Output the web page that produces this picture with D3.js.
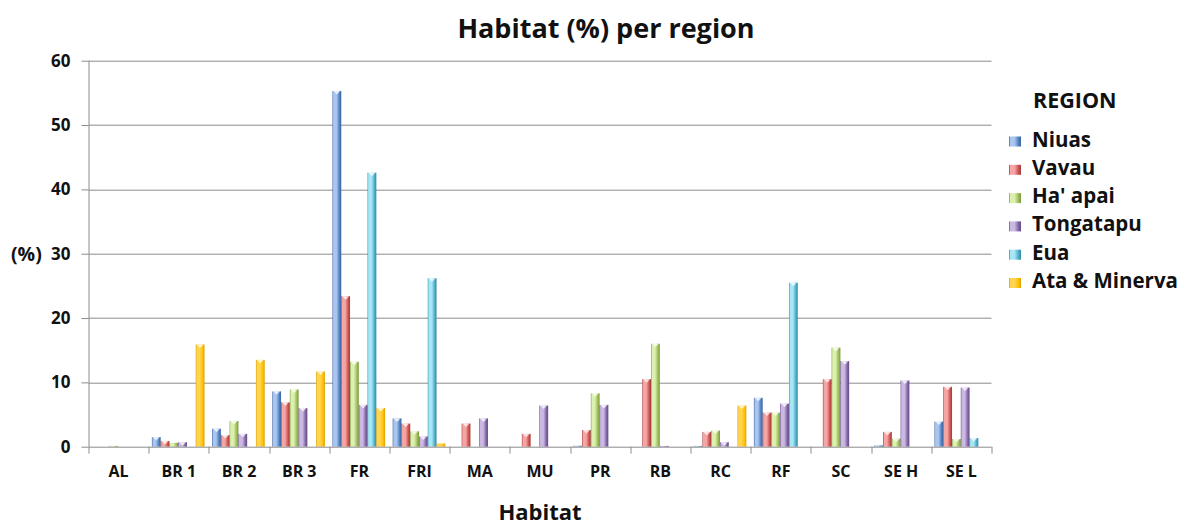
<!DOCTYPE html>
<html>
<head>
<meta charset="utf-8">
<script src="https://cdn.jsdelivr.net/npm/d3@7"></script>
<style>
  html, body { margin: 0; padding: 0; background: #fff; }
  svg { display: block; font-family: "Open Sans", Lato, sans-serif; }
</style>
</head>
<body>
<svg id="chart" width="1184" height="527"></svg>
<script>
// Habitat categories along the x axis
const habitats = ["AL", "BR 1", "BR 2", "BR 3", "FR", "FRI", "MA", "MU", "PR", "RB", "RC", "RF", "SC", "SE H", "SE L"];

// Share of each habitat (%) for every region
const niuas     = [0,   1.5, 2.8, 8.6, 55.3, 4.4, 0,   0,   0.15, 0,    0.1, 7.6, 0,    0.2,  3.9];
const vavau     = [0,   0.9, 1.8, 6.9, 23.4, 3.6, 3.6, 2.0, 2.6,  10.5, 2.3, 5.3, 10.5, 2.3,  9.3];
const haapai    = [0.1, 0.6, 4.0, 8.9, 13.2, 2.4, 0,   0,   8.3,  16.0, 2.5, 5.3, 15.4, 1.25, 1.2];
const tongatapu = [0,   0.7, 2.0, 6.0, 6.5,  1.6, 4.4, 6.4, 6.5,  0.1,  0.7, 6.7, 13.3, 10.3, 9.2];
const eua       = [0,   0,   0,   0,   42.6, 26.2, 0,  0,   0,    0,    0,   25.5, 0,   0,    1.35];
const ataMinerva= [0,   15.9, 13.5, 11.7, 6.0, 0.5, 0, 0,   0,    0,    6.4, 0,   0,    0,    0];

const regionNames = ["Niuas", "Vavau", "Ha' apai", "Tongatapu", "Eua", "Ata & Minerva"];
const regionValues = [niuas, vavau, haapai, tongatapu, eua, ataMinerva];

const yTicks = [0, 10, 20, 30, 40, 50, 60];

// Fill colours per region: [edge, base, highlight]
const regionColors = [
  ["#3a62a0", "#4f81bd", "#a9c5f0"],
  ["#a03c3a", "#c9524f", "#f5a6a4"],
  ["#7c9a3e", "#9bbb59", "#dcf0b0"],
  ["#654b86", "#8064a2", "#cbb9e4"],
  ["#2f8aa4", "#4bacc6", "#a8e6f6"],
  ["#d99e00", "#ffc000", "#ffd451"]
];

const svg = d3.select("#chart");
const margin = { left: 88.5, right: 1184 - 991.5, top: 60.7, bottom: 527 - 446.7 };
const plotW = 1184 - margin.left - margin.right;
const plotH = 527 - margin.top - margin.bottom;

const x0 = d3.scaleBand().domain(habitats).range([0, plotW]).paddingInner(0).paddingOuter(0);
const x1 = d3.scaleBand().domain(d3.range(regionNames.length))
  .range([3.2, x0.bandwidth() - 4.4]).padding(0);
const y = d3.scaleLinear().domain([0, 60]).range([plotH, 0]);

// Gradients give the bars their rounded, glossy look
const defs = svg.append("defs");
regionColors.forEach((c, i) => {
  const g = defs.append("linearGradient").attr("id", "grad" + i)
    .attr("x1", 0).attr("x2", 1).attr("y1", 0).attr("y2", 0);
  g.append("stop").attr("offset", "0%").attr("stop-color", c[0]);
  g.append("stop").attr("offset", "12%").attr("stop-color", c[2]);
  g.append("stop").attr("offset", "45%").attr("stop-color", c[2]);
  g.append("stop").attr("offset", "80%").attr("stop-color", c[1]);
  g.append("stop").attr("offset", "100%").attr("stop-color", c[0]);
});

const g = svg.append("g").attr("transform", `translate(${margin.left},${margin.top})`);

// Horizontal gridlines
g.append("g").selectAll("line").data(yTicks.filter(t => t > 0)).join("line")
  .attr("x1", 0).attr("x2", plotW)
  .attr("y1", d => Math.round(y(d)) + 0.5).attr("y2", d => Math.round(y(d)) + 0.5)
  .attr("stroke", "#8c8c8c").attr("stroke-width", 1);

// Bars
const groups = g.append("g").selectAll("g").data(habitats).join("g")
  .attr("transform", d => `translate(${x0(d)},0)`);

groups.each(function(h, hi) {
  const sel = d3.select(this);
  regionValues.forEach((vals, ri) => {
    const v = vals[hi];
    if (!v) return;
    const bx = x1(ri), bw = x1.bandwidth();
    const top = y(v), hgt = Math.max(plotH - top, 0.8);
    sel.append("rect")
      .attr("x", bx).attr("y", plotH - hgt).attr("width", bw).attr("height", hgt)
      .attr("fill", `url(#grad${ri})`);
    if (hgt > 4) {
      sel.append("path")
        .attr("d", `M${bx + 1},${plotH - hgt} L${bx + bw - 1},${plotH - hgt} L${bx + bw / 2},${plotH - hgt + 3.5} Z`)
        .attr("fill", "#fff").attr("opacity", 0.75);
    }
  });
});

// Y axis
const yAxis = g.append("g")
  .call(d3.axisLeft(y).tickValues(yTicks).tickSize(7).tickPadding(11).tickFormat(d3.format("d")));
yAxis.select(".domain").attr("stroke", "#8c8c8c").attr("d", `M0.5,${plotH}V0`);
yAxis.selectAll(".tick line").attr("stroke", "#8c8c8c");
yAxis.selectAll(".tick text").attr("font-size", 17).attr("font-weight", 700).attr("fill", "#111")
  .attr("font-family", "'Open Sans', sans-serif");

// X axis with ticks at category boundaries
const xAxis = g.append("g").attr("transform", `translate(0,${plotH})`);
xAxis.append("line").attr("x1", 0).attr("x2", plotW).attr("y1", 0.5).attr("y2", 0.5).attr("stroke", "#8c8c8c");
xAxis.selectAll("line.tk").data(habitats.concat(["end"])).join("line").attr("class", "tk")
  .attr("x1", (d, i) => Math.round(i * x0.bandwidth()) + 0.5)
  .attr("x2", (d, i) => Math.round(i * x0.bandwidth()) + 0.5)
  .attr("y1", 0).attr("y2", 7).attr("stroke", "#8c8c8c");
xAxis.selectAll("text").data(habitats).join("text")
  .attr("x", d => x0(d) + x0.bandwidth() / 2).attr("y", 30)
  .attr("text-anchor", "middle").attr("font-size", 16).attr("font-weight", 700).attr("fill", "#111")
  .text(d => d);

// Titles
svg.append("text").attr("x", 606).attr("y", 38).attr("text-anchor", "middle")
  .attr("font-size", 27).attr("font-weight", 700).attr("fill", "#111").text("Habitat (%) per region");
svg.append("text").attr("x", 540).attr("y", 520).attr("text-anchor", "middle")
  .attr("font-size", 22).attr("font-weight", 700).attr("fill", "#111").text("Habitat");
svg.append("text").attr("x", 11).attr("y", 261)
  .attr("font-size", 19.5).attr("font-weight", 700).attr("fill", "#111").text("(%)");

// Legend
const legend = svg.append("g").attr("transform", "translate(1009,0)");
legend.append("text").attr("x", 24).attr("y", 108).attr("font-size", 21.5).attr("font-weight", 700)
  .attr("fill", "#111").text("REGION");
regionNames.forEach((name, i) => {
  const yy = 146.5 + i * 28.3;
  legend.append("rect").attr("x", 0).attr("y", yy - 10).attr("width", 12).attr("height", 10)
    .attr("fill", `url(#grad${i})`);
  legend.append("text").attr("x", 23).attr("y", yy).attr("font-size", 20.5).attr("font-weight", 700)
    .attr("fill", "#111").text(name);
});
</script>
</body>
</html>
